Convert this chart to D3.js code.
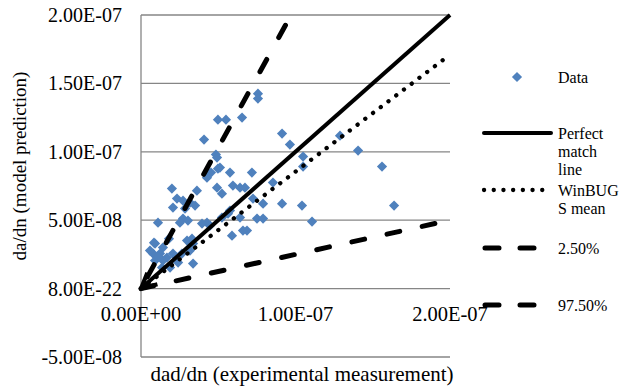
<!DOCTYPE html>
<html>
<head>
<meta charset="utf-8">
<title>da/dn scatter</title>
<script src="https://d3js.org/d3.v7.min.js"></script>
<style>
  body { margin: 0; background: #fff; }
  text { font-family: "Liberation Serif", "Times New Roman", "DejaVu Serif", serif; fill: #000; }
</style>
</head>
<body>
<script>
// values in units of 1e-8
var UNIT = 1e-8;
var dataX = [7.57, 7.57, 4.98, 5.50, 6.54, 4.08, 9.13, 9.64, 12.88, 4.85, 14.05, 10.49, 10.49, 15.6,
  4.92, 4.98, 5.76, 4.27, 4.53, 5.11, 7.18, 8.54, 2.0, 3.62, 4.92, 5.24, 5.95, 6.41, 6.73, 7.25, 7.90,
  9.13, 10.42, 11.07, 7.51, 6.86, 16.38, 2.33, 2.72, 3.17, 3.50, 2.07, 2.85, 1.10, 2.72, 3.04, 4.27,
  4.47, 5.24, 5.63, 6.41, 5.76, 6.60, 5.89, 2.52, 3.95, 7.90,
  1.81, 0.91, 1.42, 0.78, 1.23, 1.68, 2.07, 0.91, 1.42, 2.98, 3.37, 2.65, 3.17, 3.37, 1.36, 1.88,
  0.58, 0.84, 3.30, 2.40, 1.10];
var dataY = [14.25, 13.89, 12.35, 12.35, 12.50, 10.89, 11.33, 10.53, 11.18, 9.80, 10.09, 9.65, 8.92, 8.92,
  9.58, 8.77, 8.48, 8.11, 8.48, 8.85, 8.48, 7.75, 7.31, 7.16, 7.38, 6.94, 7.53, 7.38, 7.38, 6.58, 6.21,
  6.21, 6.07, 4.90, 5.12, 4.24, 6.07, 6.58, 6.43, 6.29, 6.07, 5.92, 5.85, 4.82, 5.12, 4.97, 4.82,
  4.61, 5.19, 5.48, 5.19, 5.70, 4.24, 3.87, 4.82, 4.75, 5.12,
  3.65, 3.29, 3.00, 2.56, 2.56, 2.27, 2.56, 2.05, 2.05, 3.51, 3.29, 2.56, 2.78, 1.83, 1.54, 1.54,
  2.78, 3.36, 3.65, 1.90, 2.35];

var perfectLine = [[0, 0], [20, 20]];
var meanLine = [[0, 0], [20, 17.1]];
var lowLine = [[0, 0], [20, 5.0]];
var highLine = [[9.35, 19.25], [0, 0]];

var yTicks = [-5e-8, 0, 5e-8, 1e-7, 1.5e-7, 2e-7];
var yTickLabels = ["-5.00E-08", "8.00E-22", "5.00E-08", "1.00E-07", "1.50E-07", "2.00E-07"];
var xTicks = [0, 1e-7, 2e-7];
var xTickLabels = ["0.00E+00", "1.00E-07", "2.00E-07"];

var legendLabels = [["Data"], ["Perfect", "match", "line"], ["WinBUG", "S mean"], ["2.50%"], ["97.50%"]];

var W = 619, H = 390;
var plotLeft = 141, plotTop = 15, pw = 309, ph = 342;

var svg = d3.select("body").append("svg")
  .attr("width", W).attr("height", H);

var x = d3.scaleLinear().domain([0, 2e-7]).range([plotLeft, plotLeft + pw]);
var y = d3.scaleLinear().domain([-5e-8, 2e-7]).range([plotTop + ph, plotTop]);

// gridlines
svg.append("g").selectAll("line").data(yTicks).enter().append("line")
  .attr("x1", plotLeft).attr("x2", plotLeft + pw)
  .attr("y1", function(d) { return y(d); }).attr("y2", function(d) { return y(d); })
  .attr("stroke", "#868686").attr("stroke-width", 1.3);

svg.append("line")
  .attr("x1", plotLeft).attr("x2", plotLeft)
  .attr("y1", plotTop).attr("y2", plotTop + ph)
  .attr("stroke", "#868686").attr("stroke-width", 1.3);

// tick labels
svg.append("g").selectAll("text").data(yTicks).enter().append("text")
  .attr("x", plotLeft - 19).attr("y", function(d) { return y(d); })
  .attr("dy", "0.35em").attr("text-anchor", "end")
  .style("font-size", "20px")
  .text(function(d, i) { return yTickLabels[i]; });

svg.append("g").selectAll("text").data(xTicks).enter().append("text")
  .attr("x", function(d) { return x(d); }).attr("y", 321)
  .attr("text-anchor", "middle")
  .style("font-size", "20.5px")
  .text(function(d, i) { return xTickLabels[i]; });

// axis titles
svg.append("text")
  .attr("x", 302).attr("y", 381)
  .attr("text-anchor", "middle").style("font-size", "21px")
  .text("dad/dn (experimental measurement)");

svg.append("text")
  .attr("transform", "translate(26,166) rotate(-90)")
  .attr("text-anchor", "middle").style("font-size", "19px")
  .text("da/dn (model prediction)");

// arrow marker for the lines at origin
svg.append("defs").append("marker")
  .attr("id", "arr")
  .attr("viewBox", "0 0 10 10")
  .attr("refX", 9).attr("refY", 5)
  .attr("markerUnits", "userSpaceOnUse")
  .attr("markerWidth", 19).attr("markerHeight", 19)
  .attr("orient", "auto-start-reverse")
  .append("path")
  .attr("d", "M1,1 L9,5 L1,9")
  .attr("fill", "none").attr("stroke", "#000").attr("stroke-width", 2.2);

var line = d3.line()
  .x(function(d) { return x(d[0] * UNIT); })
  .y(function(d) { return y(d[1] * UNIT); });

// points
var pts = dataX.map(function(d, i) { return [d, dataY[i]]; });
var diamond = d3.symbol().type(d3.symbolSquare).size(52);
svg.append("g").selectAll("path").data(pts).enter().append("path")
  .attr("d", diamond)
  .attr("transform", function(d) { return "translate(" + x(d[0] * UNIT) + "," + y(d[1] * UNIT) + ") rotate(45)"; })
  .attr("fill", "#4F81BD");

// lines
svg.append("path").datum(lowLine).attr("d", line)
  .attr("fill", "none").attr("stroke", "#000").attr("stroke-width", 5)
  .attr("stroke-linecap", "round").attr("stroke-dasharray", "13,23");

svg.append("path").datum(highLine).attr("d", line)
  .attr("fill", "none").attr("stroke", "#000").attr("stroke-width", 5)
  .attr("stroke-linecap", "round").attr("stroke-dasharray", "14,25");

svg.append("path").datum(meanLine).attr("d", line)
  .attr("fill", "none").attr("stroke", "#000").attr("stroke-width", 4.3)
  .attr("stroke-linecap", "round").attr("stroke-dasharray", "0.1,9.6");

svg.append("path").datum(perfectLine).attr("d", line)
  .attr("fill", "none").attr("stroke", "#000").attr("stroke-width", 4)
  .attr("marker-start", "url(#arr)");

// legend
var legendY = [77, 133, 190, 248, 305];
var lg = svg.append("g");

lg.append("path").attr("d", diamond)
  .attr("transform", "translate(517," + legendY[0] + ") rotate(45)")
  .attr("fill", "#4F81BD");

lg.append("line").attr("x1", 484).attr("x2", 551)
  .attr("y1", legendY[1]).attr("y2", legendY[1])
  .attr("stroke", "#000").attr("stroke-width", 4).attr("stroke-linecap", "round");

lg.append("line").attr("x1", 484).attr("x2", 551)
  .attr("y1", legendY[2]).attr("y2", legendY[2])
  .attr("stroke", "#000").attr("stroke-width", 4.3).attr("stroke-linecap", "round")
  .attr("stroke-dasharray", "0.1,9.6");

[3, 4].forEach(function(k) {
  lg.append("line").attr("x1", 485).attr("x2", 549)
    .attr("y1", legendY[k]).attr("y2", legendY[k])
    .attr("stroke", "#000").attr("stroke-width", 5).attr("stroke-linecap", "round")
    .attr("stroke-dasharray", "14,21");
});

legendLabels.forEach(function(lines, k) {
  var t = lg.append("text").attr("x", 558).attr("y", legendY[k])
    .style("font-size", "16px");
  lines.forEach(function(s, j) {
    t.append("tspan").attr("x", 558).attr("dy", j == 0 ? "0.35em" : "1.15em").text(s);
  });
});
</script>
</body>
</html>
